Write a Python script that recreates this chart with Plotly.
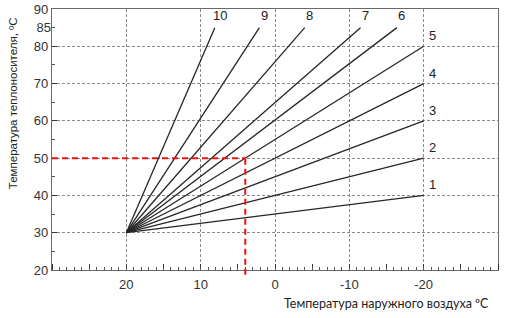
import plotly.graph_objects as go

# ---- data ----
curve_ids = ["1", "2", "3", "4", "5", "6", "7", "8", "9", "10"]
start_outdoor = 20
start_supply = 30
end_outdoor = [-20, -20, -20, -20, -20, -16.4, -11.5, -4.0, 2.1, 8.1]
end_supply = [40, 50, 60, 70, 80, 85, 85, 85, 85, 85]

x_tick_vals = [20, 10, 0, -10, -20]
x_tick_text = ["20", "10", "0", "-10", "-20"]
y_tick_vals = [20, 30, 40, 50, 60, 70, 80, 90]
y_tick_text = ["20", "30", "40", "50", "60", "70", "80", "90"]
y_extra_tick = [85]

target_outdoor = 4
target_supply = 50

x_range = [30, -30]
y_range = [20, 90]

y_title = "Температура теплоносителя, ºС"
x_title = "Температура наружного воздуха ºС"

# ---- figure ----
fig = go.Figure()
line_col = "#262626"
for cid, ex, ey in zip(curve_ids, end_outdoor, end_supply):
    fig.add_trace(go.Scatter(x=[start_outdoor, ex], y=[start_supply, ey], mode="lines",
                             line=dict(color=line_col, width=1.3), showlegend=False,
                             hoverinfo="skip"))

# invisible trace for secondary axes
fig.add_trace(go.Scatter(x=[None], y=[None], xaxis="x2", yaxis="y2", showlegend=False))

ann = []
for cid, ex, ey in zip(curve_ids, end_outdoor, end_supply):
    if ey < 85:
        ann.append(dict(x=ex, y=ey, text=cid, showarrow=False, xanchor="left", yanchor="bottom",
                        xshift=3, yshift=1, font=dict(family="Liberation Sans, Arial", size=13, color="#222")))
    else:
        ann.append(dict(x=ex, y=ey, text=cid, showarrow=False, xanchor="center", yanchor="bottom",
                        xshift=5, yshift=3, font=dict(family="Liberation Sans, Arial", size=13, color="#222")))

ann.append(dict(x=-0.087, y=0.64, xref="paper", yref="paper", text=y_title, textangle=-90,
                showarrow=False, xanchor="center", yanchor="middle",
                font=dict(family="Liberation Sans, Arial", size=11.5, color="#222")))
ann.append(dict(x=0.75, y=-0.128, xref="paper", yref="paper", text=x_title,
                showarrow=False, xanchor="center", yanchor="middle",
                font=dict(family="Lato, Open Sans", size=12.5, color="#222")))

ysp = (target_supply - y_range[0]) / (y_range[1] - y_range[0])
shapes = [
    dict(type="line", xref="x", yref="y", x0=x_range[0], x1=target_outdoor, y0=target_supply, y1=target_supply,
         line=dict(color="#ee1111", width=2, dash="6px,4px"), layer="above"),
    dict(type="line", xref="x", yref="paper", x0=target_outdoor, x1=target_outdoor, y0=-0.018, y1=ysp,
         line=dict(color="#ee1111", width=2, dash="6px,4px"), layer="above"),
]

tickfont = dict(family="Liberation Sans, Arial", size=13, color="#333")
grid = dict(showgrid=True, gridcolor="#8a8a8a", griddash="3px,2px", gridwidth=1)

fig.update_layout(
    width=508, height=318,
    margin=dict(l=52, r=10, t=9, b=48, autoexpand=False),
    plot_bgcolor="white", paper_bgcolor="white",
    annotations=ann, shapes=shapes,
    xaxis=dict(range=x_range, tickmode="array", tickvals=x_tick_vals, ticktext=x_tick_text,
               ticks="", tickfont=tickfont, showline=True, linecolor="#6a6a6a", linewidth=1.2,
               mirror=True, zeroline=False, ticklabelstandoff=2, automargin=False,
               minor=dict(tickmode="linear", tick0=0, dtick=5, ticks="inside", ticklen=6,
                          tickcolor="#333", tickwidth=1.3, showgrid=False),
               **grid),
    yaxis=dict(range=y_range, tickmode="array", tickvals=y_tick_vals, ticktext=y_tick_text,
               ticks="inside", ticklen=5, tickcolor="#333", tickwidth=1.3, tickfont=tickfont,
               showline=True, linecolor="#6a6a6a", linewidth=1.2, mirror=True, zeroline=False,
               automargin=False,
               minor=dict(tickmode="linear", tick0=25, dtick=10, ticks="inside", ticklen=3,
                          tickcolor="#555", tickwidth=1, showgrid=False),
               **grid),
    xaxis2=dict(range=x_range, overlaying="x", anchor="y", showgrid=False, showticklabels=False,
                tickmode="linear", tick0=0, dtick=1, ticks="inside", ticklen=3, tickcolor="#555",
                tickwidth=1, zeroline=False, showline=False, automargin=False),
    yaxis2=dict(range=y_range, overlaying="y", anchor="x", side="left", showgrid=False,
                tickmode="array", tickvals=y_extra_tick, ticktext=[str(v) for v in y_extra_tick],
                ticks="", tickfont=tickfont, zeroline=False, showline=False, automargin=False),
)

fig.write_html("out.html")
